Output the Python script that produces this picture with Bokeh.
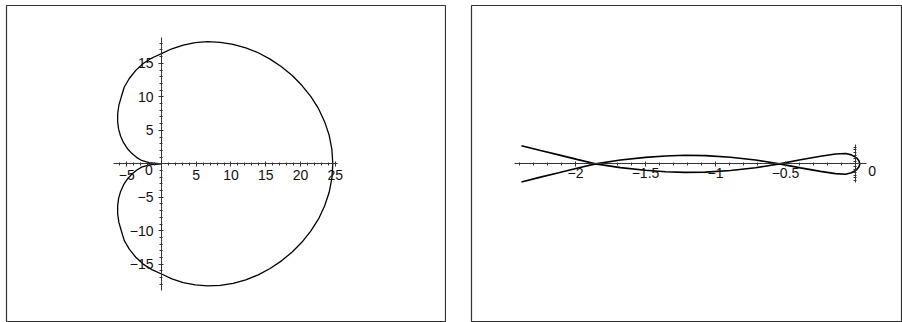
import numpy as np
from bokeh.plotting import figure
from bokeh.layouts import row
from bokeh.models import Range1d, FixedTicker, CustomJSTickFormatter, LinearAxis
from bokeh.core.properties import value
from bokeh.embed import file_html
from bokeh.resources import INLINE

# ---------------- data ----------------
# left: closed heart-shaped curve (upper half from the right end to the cusp,
# then the lower half back to the right end)
left_x = [24.65, 24.52, 24.13, 23.47, 22.60, 21.50, 20.22, 18.81, 17.27, 15.63,
          13.92, 12.13, 10.30, 8.46, 6.64, 4.85, 3.13, 1.50, 0.00, -1.38,
          -2.64, -3.73, -4.63, -5.35, -5.78, -6.13, -6.30, -6.31, -6.17, -5.88,
          -5.46, -4.92, -4.28, -3.59, -2.86, -1.79, 0.00,
          -1.79, -2.86, -3.59, -4.28, -4.92, -5.46, -5.88, -6.17, -6.31, -6.30,
          -6.13, -5.78, -5.35, -4.63, -3.73, -2.64, -1.38, 0.00, 1.50, 3.13,
          4.85, 6.64, 8.46, 10.30, 12.13, 13.92, 15.63, 17.27, 18.81, 20.22,
          21.50, 22.60, 23.47, 24.13, 24.52, 24.65]
left_y = [0.00, 2.15, 4.25, 6.29, 8.23, 10.02, 11.68, 13.17, 14.49, 15.63,
          16.58, 17.32, 17.84, 18.14, 18.23, 18.08, 17.73, 17.17, 16.45, 15.79,
          14.97, 13.91, 12.73, 11.46, 10.00, 8.75, 7.51, 6.31, 5.17, 4.12,
          3.15, 2.29, 1.56, 0.96, 0.50, 0.16, 0.00,
          -0.16, -0.50, -0.96, -1.56, -2.29, -3.15, -4.12, -5.17, -6.31, -7.51,
          -8.75, -10.00, -11.46, -12.73, -13.91, -14.97, -15.79, -16.45, -17.17, -17.73,
          -18.08, -18.23, -18.14, -17.84, -17.32, -16.58, -15.63, -14.49, -13.17, -11.68,
          -10.02, -8.23, -6.29, -4.25, -2.15, 0.00]
left_xticks = [-5, 5, 10, 15, 20, 25]
left_yticks = [-15, -10, -5, 5, 10, 15]

# right: self-crossing curve with a loop at the right end
right_x = [-2.386, -2.250, -2.120, -1.990, -1.857, -1.679, -1.500, -1.357, -1.221, -1.071,
           -0.893, -0.714, -0.543, -0.393, -0.250, -0.143, -0.071, -0.029, 0.007, 0.025,
           0.031,
           0.025, 0.007, -0.029, -0.071, -0.143, -0.250, -0.393, -0.543, -0.714,
           -0.893, -1.071, -1.221, -1.357, -1.500, -1.679, -1.857, -1.990, -2.120, -2.250,
           -2.386]
right_y = [-0.129, -0.095, -0.064, -0.032, 0.000, 0.027, 0.046, 0.056, 0.061, 0.059,
           0.047, 0.028, 0.000, -0.029, -0.054, -0.070, -0.074, -0.064, -0.043, -0.021,
           0.000,
           0.021, 0.043, 0.064, 0.074, 0.070, 0.054, 0.029, 0.000, -0.028,
           -0.047, -0.059, -0.061, -0.056, -0.046, -0.027, 0.000, 0.032, 0.064, 0.095,
           0.129]
right_xticks = [-2, -1.5, -1, -0.5]
right_yticks_minor = [-0.12, -0.1, -0.08, -0.06, -0.04, -0.02, 0.02, 0.04, 0.06, 0.08, 0.1, 0.12]

origin = [0]
origin_label = ["0"]

FONT = "Liberation Sans"
FSIZE = "14px"

fmt_code = """
var s = Math.abs(tick).toString();
return (tick < 0 ? '\\u2212' : '') + s;
"""


def make_fig(w, h, xr, yr, bl, br):
    p = figure(width=w, height=h, x_range=Range1d(*xr), y_range=Range1d(*yr),
               x_axis_type=None, y_axis_type=None, output_backend="svg",
               toolbar_location=None, min_border=0,
               min_border_left=bl, min_border_right=br,
               min_border_top=5, min_border_bottom=1)
    p.outline_line_color = "#333333"
    p.outline_line_width = 1.2
    p.background_fill_color = "white"
    p.border_fill_color = "white"
    return p


def add_axis(p, side, bounds, ticks, minor, standoff):
    ax = LinearAxis(fixed_location=0)
    ax.bounds = bounds
    ax.ticker = FixedTicker(ticks=ticks, minor_ticks=minor)
    ax.formatter = CustomJSTickFormatter(code=fmt_code)
    ax.axis_line_color = "#333333"
    ax.axis_line_width = 1
    ax.major_tick_line_color = "#333333"
    ax.minor_tick_line_color = "#333333"
    ax.major_tick_in = 2
    ax.major_tick_out = 3
    ax.minor_tick_in = 1
    ax.minor_tick_out = 2
    ax.major_label_text_font = FONT
    ax.major_label_text_font_size = FSIZE
    ax.major_label_text_color = "#111111"
    ax.major_label_standoff = standoff
    p.add_layout(ax, side)
    return ax


# ---------------- left panel: frame 440x316 at (6,5) ----------------
pl = make_fig(446, 322, (-22.30, 41.01), (-23.54, 23.63), 6, 0)
add_axis(pl, "below", (-6.86, 25.28), left_xticks,
         [float(v) for v in np.arange(-6, 26, 1)], 3)
add_axis(pl, "left", (-18.9, 18.9), left_yticks,
         [float(v) for v in np.arange(-18, 19, 1)], 5)
pl.line(left_x, left_y, line_color="black", line_width=1.3)
pl.text(x=origin, y=origin, text=origin_label, x_offset=-12.7, y_offset=6,
        text_align="center", text_baseline="middle",
        text_font=value(FONT), text_font_size=value(FSIZE), text_color="#111111")

# ---------------- right panel: frame 430x316 at (471,5) ----------------
pr = make_fig(456, 322, (-2.743, 0.3286), (-1.126, 1.131), 25, 1)
add_axis(pr, "below", (-2.434, 0.079), right_xticks,
         [round(float(v), 2) for v in np.arange(-2.4, 0.05, 0.1)], 1)
add_axis(pr, "left", (-0.136, 0.136), [], right_yticks_minor, 5)
pr.line(right_x, right_y, line_color="black", line_width=1.6)
pr.text(x=origin, y=origin, text=origin_label, x_offset=16.7, y_offset=6.7,
        text_align="center", text_baseline="middle",
        text_font=value(FONT), text_font_size=value(FSIZE), text_color="#111111")

layout = row(pl, pr, spacing=0)

with open("out.html", "w", encoding="utf-8") as f:
    f.write(file_html(layout, INLINE))
